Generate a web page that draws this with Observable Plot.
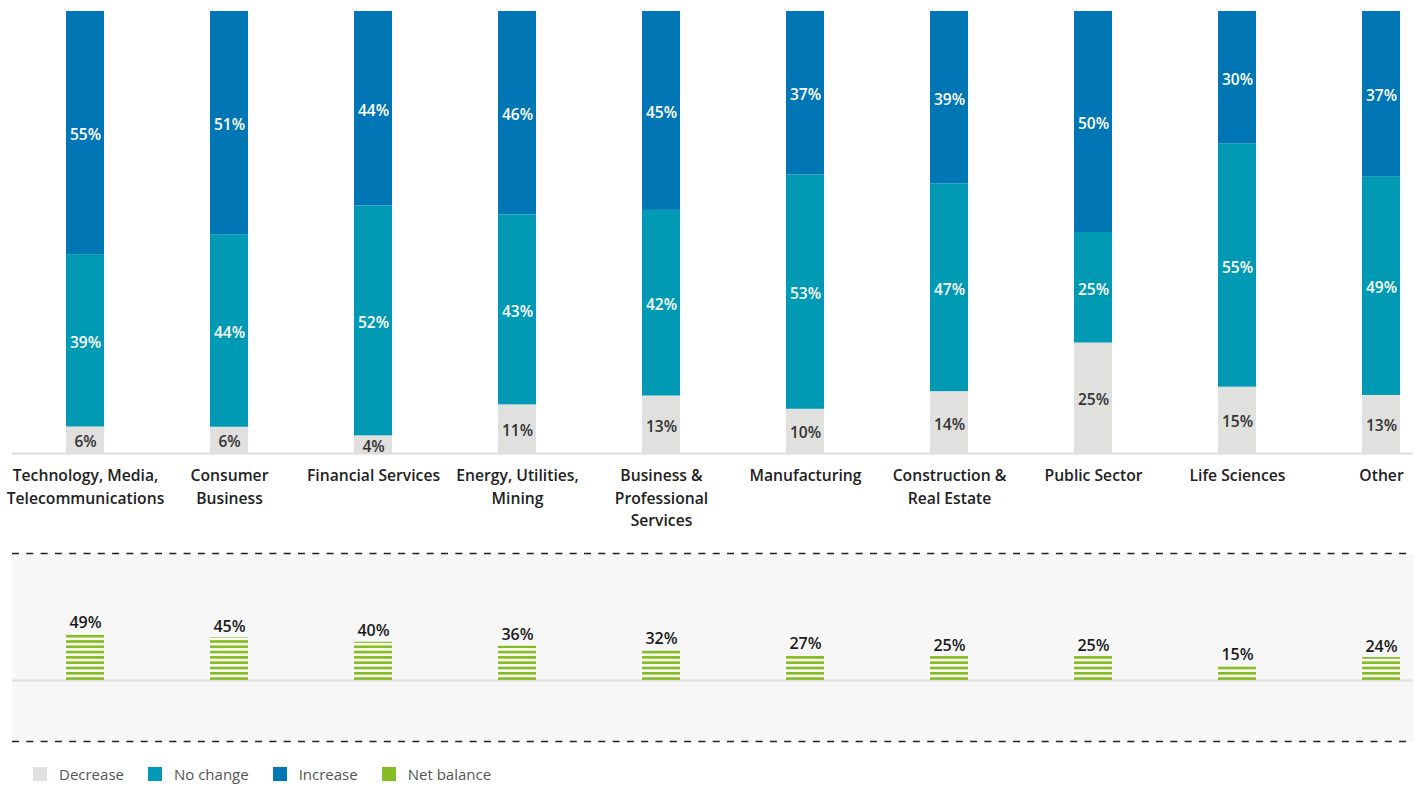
<!DOCTYPE html>
<html>
<head>
<meta charset="utf-8">
<script src="https://cdn.jsdelivr.net/npm/d3@7"></script>
<script src="https://cdn.jsdelivr.net/npm/@observablehq/plot@0.6"></script>
<style>
  html, body { margin: 0; padding: 0; background: #fff; }
  body { width: 1417px; height: 786px; overflow: hidden; font-family: "Open Sans", sans-serif; }
  #chart svg { display: block; }
  .legend { display: flex; align-items: center; height: 38px; padding-left: 33px; font-size: 15px; color: #555; }
  .legend .item { display: flex; align-items: center; margin-right: 24px; }
  .legend .sw { width: 14px; height: 14px; margin-right: 12px; }
</style>
</head>
<body>
<div id="chart"></div>
<script>
const categories = [
  "Technology, Media, Telecommunications", "Consumer Business", "Financial Services",
  "Energy, Utilities, Mining", "Business & Professional Services", "Manufacturing",
  "Construction & Real Estate", "Public Sector", "Life Sciences", "Other"
];
const tickLabels = [
  "Technology, Media,\nTelecommunications", "Consumer\nBusiness", "Financial Services",
  "Energy, Utilities,\nMining", "Business &\nProfessional\nServices", "Manufacturing",
  "Construction &\nReal Estate", "Public Sector", "Life Sciences", "Other"
];
const decrease = [6, 6, 4, 11, 13, 10, 14, 25, 15, 13];
const noChange = [39, 44, 52, 43, 42, 53, 47, 25, 55, 49];
const increase = [55, 51, 44, 46, 45, 37, 39, 50, 30, 37];
const netBalance = [49, 45, 40, 36, 32, 27, 25, 25, 15, 24];
const seriesNames = ["Decrease", "No change", "Increase"];
const seriesColors = ["#e0e0de", "#009ab4", "#0076b4"];
const netColor = "#86bc25";
const netDomain = [-64, 133];

const seriesValues = [decrease, noChange, increase];
const stacked = [];
categories.forEach((c, i) => {
  seriesNames.forEach((s, j) => {
    stacked.push({category: c, series: s, value: seriesValues[j][i]});
  });
});
const netData = categories.map((c, i) => ({category: c, net: netBalance[i]}));

const W = 1417;
const xScale = {
  type: "band", domain: categories, range: [13, 1453],
  paddingInner: 0.736, paddingOuter: 0.368
};
const tickFmt = (d) => tickLabels[categories.indexOf(d)];
const font = {fontFamily: "'Open Sans', sans-serif", background: "transparent"};

const stackOpts = {x: "category", y: "value", z: "series", order: seriesNames, offset: "normalize"};

const mainPlot = Plot.plot({
  width: W, height: 540,
  marginTop: 11, marginBottom: 87, marginLeft: 12, marginRight: 4,
  style: font,
  x: {...xScale, label: null},
  y: {axis: null, domain: [0, 1]},
  color: {domain: seriesNames, range: seriesColors},
  marks: [
    Plot.barY(stacked, Plot.stackY({...stackOpts, fill: "series"})),
    Plot.ruleY([0], {stroke: "#dcdcdc", strokeWidth: 2}),
    Plot.text(stacked, Plot.stackY({
      ...stackOpts,
      text: d => d.value + "%",
      fill: d => d.series === "Decrease" ? "#333" : "#fff",
      fontSize: 15.5, fontWeight: 600, dy: 2
    })),
    Plot.axisX({
      tickSize: 0, tickPadding: 12, fontSize: 15.7, fontWeight: 600,
      fill: "#222", lineHeight: 1.43, tickFormat: tickFmt, label: null
    })
  ]
});

const netPlot = Plot.plot({
  width: W, height: 215,
  marginTop: 13, marginBottom: 14, marginLeft: 12, marginRight: 4,
  style: font,
  x: {...xScale, axis: null},
  y: {axis: null, domain: netDomain},
  marks: [
    Plot.frame({fill: "#f7f7f7", stroke: null}),
    Plot.ruleY([0], {stroke: "#dcdcdc", strokeWidth: 2}),
    Plot.ruleY(netDomain, {stroke: "#222", strokeWidth: 1.5, strokeDasharray: "7,7.3"}),
    Plot.barY(netData, {x: "category", y: "net", fill: "url(#netStripes)"}),
    Plot.text(netData, {
      x: "category", y: "net", text: d => d.net + "%",
      dy: -11, fontSize: 16, fontWeight: 600, fill: "#1a1a1a"
    })
  ]
});

// striped pattern for net balance bars, aligned to the zero baseline
const y0 = netPlot.scale("y").apply(0);
const ns = "http://www.w3.org/2000/svg";
const defs = document.createElementNS(ns, "defs");
const pat = document.createElementNS(ns, "pattern");
pat.setAttribute("id", "netStripes");
pat.setAttribute("patternUnits", "userSpaceOnUse");
pat.setAttribute("x", 0);
pat.setAttribute("y", y0);
pat.setAttribute("width", 20);
pat.setAttribute("height", 5.3);
const bg = document.createElementNS(ns, "rect");
bg.setAttribute("width", 20); bg.setAttribute("height", 5.3); bg.setAttribute("fill", "#fbfdf6");
const stripe = document.createElementNS(ns, "rect");
stripe.setAttribute("y", 2.6); stripe.setAttribute("width", 20); stripe.setAttribute("height", 2.7);
stripe.setAttribute("fill", netColor);
pat.appendChild(bg); pat.appendChild(stripe); defs.appendChild(pat);
netPlot.insertBefore(defs, netPlot.firstChild);

const chart = document.getElementById("chart");
chart.appendChild(mainPlot);
chart.appendChild(netPlot);

const legend = document.createElement("div");
legend.className = "legend";
[...seriesNames, "Net balance"].forEach((name, i) => {
  const item = document.createElement("div");
  item.className = "item";
  const sw = document.createElement("div");
  sw.className = "sw";
  sw.style.background = i < 3 ? seriesColors[i] : netColor;
  const label = document.createElement("span");
  label.textContent = name;
  item.appendChild(sw); item.appendChild(label);
  legend.appendChild(item);
});
chart.appendChild(legend);
</script>
</body>
</html>
